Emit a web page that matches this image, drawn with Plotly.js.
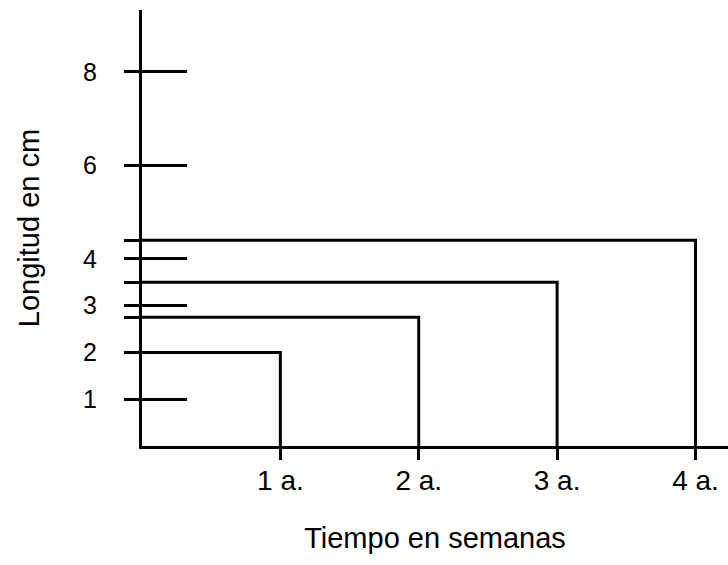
<!DOCTYPE html>
<html>
<head>
<meta charset="utf-8">
<script src="https://cdn.plot.ly/plotly-3.0.1.min.js"></script>
<style>html,body{margin:0;padding:0;background:#fff;}#chart{width:728px;height:565px;}</style>
</head>
<body>
<div id="chart"></div>
<script>
// Data
var weeks = [1, 2, 3, 4];
var weekLabels = ['1 a.', '2 a.', '3 a.', '4 a.'];
var lengths = [2, 2.75, 3.5, 4.4];
var yTickVals = [1, 2, 3, 4, 6, 8];
var yTickText = ['1', '2', '3', '4', '6', '8'];

var FONT = 'Liberation Sans, Arial, sans-serif';

var traces = weeks.map(function (w, i) {
  return {
    type: 'scatter', mode: 'lines',
    x: [0, w, w], y: [lengths[i], lengths[i], 0],
    line: {color: '#000', width: 3},
    hoverinfo: 'skip', showlegend: false,
    yaxis: i === 0 ? 'y2' : 'y'
  };
});

// outer ticks: labelled ticks plus stubs at the step levels
var outVals = yTickVals.slice();
var outText = yTickText.slice();
lengths.forEach(function (v) {
  if (outVals.indexOf(v) < 0) { outVals.push(v); outText.push(''); }
});

var layout = {
  width: 728, height: 565,
  margin: {l: 142, r: 0, t: 10, b: 119, pad: 0},
  paper_bgcolor: '#fff', plot_bgcolor: '#fff',
  showlegend: false,
  font: {family: FONT, color: '#000', size: 25},
  xaxis: {
    range: [0, 4.235], showgrid: false, zeroline: false,
    showline: true, linecolor: '#000', linewidth: 3,
    ticks: 'outside', ticklen: 11, tickwidth: 3, tickcolor: '#000',
    tickvals: weeks, ticktext: weekLabels,
    ticklabelstandoff: -4,
    tickfont: {family: FONT, size: 28, color: '#000'},
    title: {text: 'Tiempo en semanas', font: {family: FONT, size: 29, color: '#000'}, standoff: 34}
  },
  yaxis: {
    range: [0, 9.32], showgrid: false, zeroline: false,
    showline: true, linecolor: '#000', linewidth: 3,
    ticks: 'outside', ticklen: 15, tickwidth: 3, tickcolor: '#000',
    tickvals: outVals, ticktext: outText,
    ticklabelstandoff: 22,
    tickfont: {family: FONT, size: 25, color: '#000'},
    title: {text: 'Longitud en cm', font: {family: FONT, size: 29, color: '#000'}, standoff: 35}
  },
  yaxis2: {
    overlaying: 'y', matches: 'y', side: 'left',
    showgrid: false, zeroline: false, showline: false,
    ticks: 'inside', ticklen: 45, tickwidth: 3, tickcolor: '#000',
    tickvals: yTickVals, showticklabels: false
  }
};

Plotly.newPlot('chart', traces, layout, {displayModeBar: false, staticPlot: true});
</script>
</body>
</html>
